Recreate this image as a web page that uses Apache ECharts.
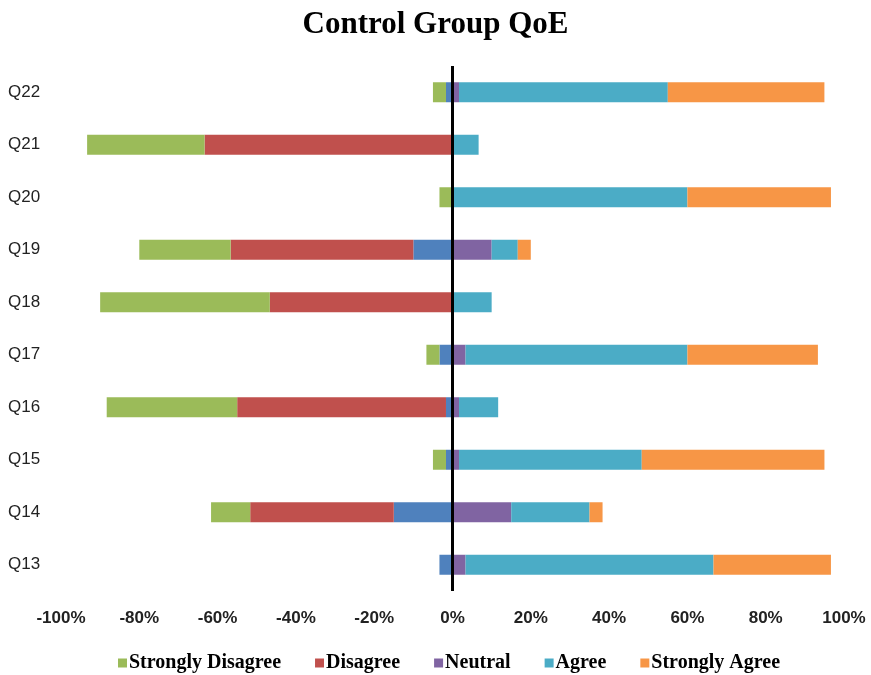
<!DOCTYPE html>
<html>
<head>
<meta charset="utf-8">
<script src="https://cdn.jsdelivr.net/npm/echarts@6/dist/echarts.min.js"></script>
<style>
  html, body { margin: 0; padding: 0; background: #fff; }
  #chart { width: 871px; height: 675px; }
</style>
</head>
<body>
<div id="chart"></div>
<script>
// Questions, bottom to top
const questions = ['Q13', 'Q14', 'Q15', 'Q16', 'Q17', 'Q18', 'Q19', 'Q20', 'Q21', 'Q22'];

// Share of responses per answer (%)
const stronglyDisagree = [0, 10, 3.33, 33.33, 3.33, 43.33, 23.33, 3.33, 30, 3.33];
const disagree         = [0, 36.67, 0, 53.33, 0, 46.67, 46.67, 0, 63.33, 0];
const neutral          = [6.67, 30, 3.33, 3.33, 6.67, 0, 20, 0, 0, 3.33];
const agree            = [63.33, 20, 46.67, 10, 56.67, 10, 6.67, 60, 6.67, 53.33];
const stronglyAgree    = [30, 3.33, 46.67, 0, 33.33, 0, 3.33, 36.67, 0, 40];

const tickLabels = ['-100%', '-80%', '-60%', '-40%', '-20%', '0%', '20%', '40%', '60%', '80%', '100%'];

const colors = {
  sd: '#9BBB59',
  d: '#C0504D',
  nNeg: '#4F81BD',
  n: '#8064A2',
  a: '#4BACC6',
  sa: '#F79646'
};

function bar(name, data, color, extra) {
  return Object.assign({
    name: name,
    type: 'bar',
    stack: 'likert',
    barWidth: 20,
    data: data,
    itemStyle: { color: color },
    emphasis: { disabled: true }
  }, extra || {});
}

// Negative side stacks outward from zero: half of Neutral, Disagree, Strongly Disagree
const series = [
  bar('Neutral (left half)', neutral.map(v => -v / 2), colors.nNeg, {
    markLine: {
      silent: true,
      symbol: 'none',
      label: { show: false },
      lineStyle: { color: '#000', width: 3, type: 'solid' },
      data: [{ xAxis: 0 }]
    },
    z: 2
  }),
  bar('Disagree', disagree.map(v => -v), colors.d),
  bar('Strongly Disagree', stronglyDisagree.map(v => -v), colors.sd),
  bar('Neutral', neutral.map(v => v / 2), colors.n),
  bar('Agree', agree, colors.a),
  bar('Strongly Agree', stronglyAgree, colors.sa)
];

const chart = echarts.init(document.getElementById('chart'), null, { renderer: 'canvas' });
chart.setOption({
  animation: false,
  backgroundColor: '#fff',
  title: {
    text: 'Control Group QoE',
    left: 'center',
    top: 4,
    textStyle: {
      fontFamily: '"Liberation Serif", "Times New Roman", serif',
      fontWeight: 'bold',
      fontSize: 31,
      color: '#000'
    }
  },
  legend: {
    data: ['Strongly Disagree', 'Disagree', 'Neutral', 'Agree', 'Strongly Agree'],
    top: 648,
    left: 113,
    icon: 'rect',
    itemWidth: 9,
    itemHeight: 9,
    itemGap: 34,
    textStyle: {
      fontFamily: '"Liberation Serif", "Times New Roman", serif',
      fontWeight: 'bold',
      fontSize: 20,
      color: '#000',
      padding: [0, 0, 0, -3]
    }
  },
  grid: { left: 61, right: 27, top: 66, bottom: 84, containLabel: false },
  xAxis: {
    type: 'value',
    min: -100,
    max: 100,
    interval: 20,
    axisLine: { show: false },
    axisTick: { show: false },
    splitLine: { show: false },
    axisLabel: {
      margin: 19,
      fontFamily: '"Liberation Sans", Arial, sans-serif',
      fontWeight: 'bold',
      fontSize: 17,
      color: '#222',
      formatter: function (v) {
        return tickLabels[Math.round((v + 100) / 20)];
      }
    }
  },
  yAxis: {
    type: 'category',
    data: questions,
    axisLine: { show: false },
    axisTick: { show: false },
    splitLine: { show: false },
    axisLabel: {
      align: 'left',
      margin: 53,
      fontFamily: '"Liberation Sans", Arial, sans-serif',
      fontSize: 17,
      color: '#222'
    }
  },
  series: series
});
</script>
</body>
</html>
